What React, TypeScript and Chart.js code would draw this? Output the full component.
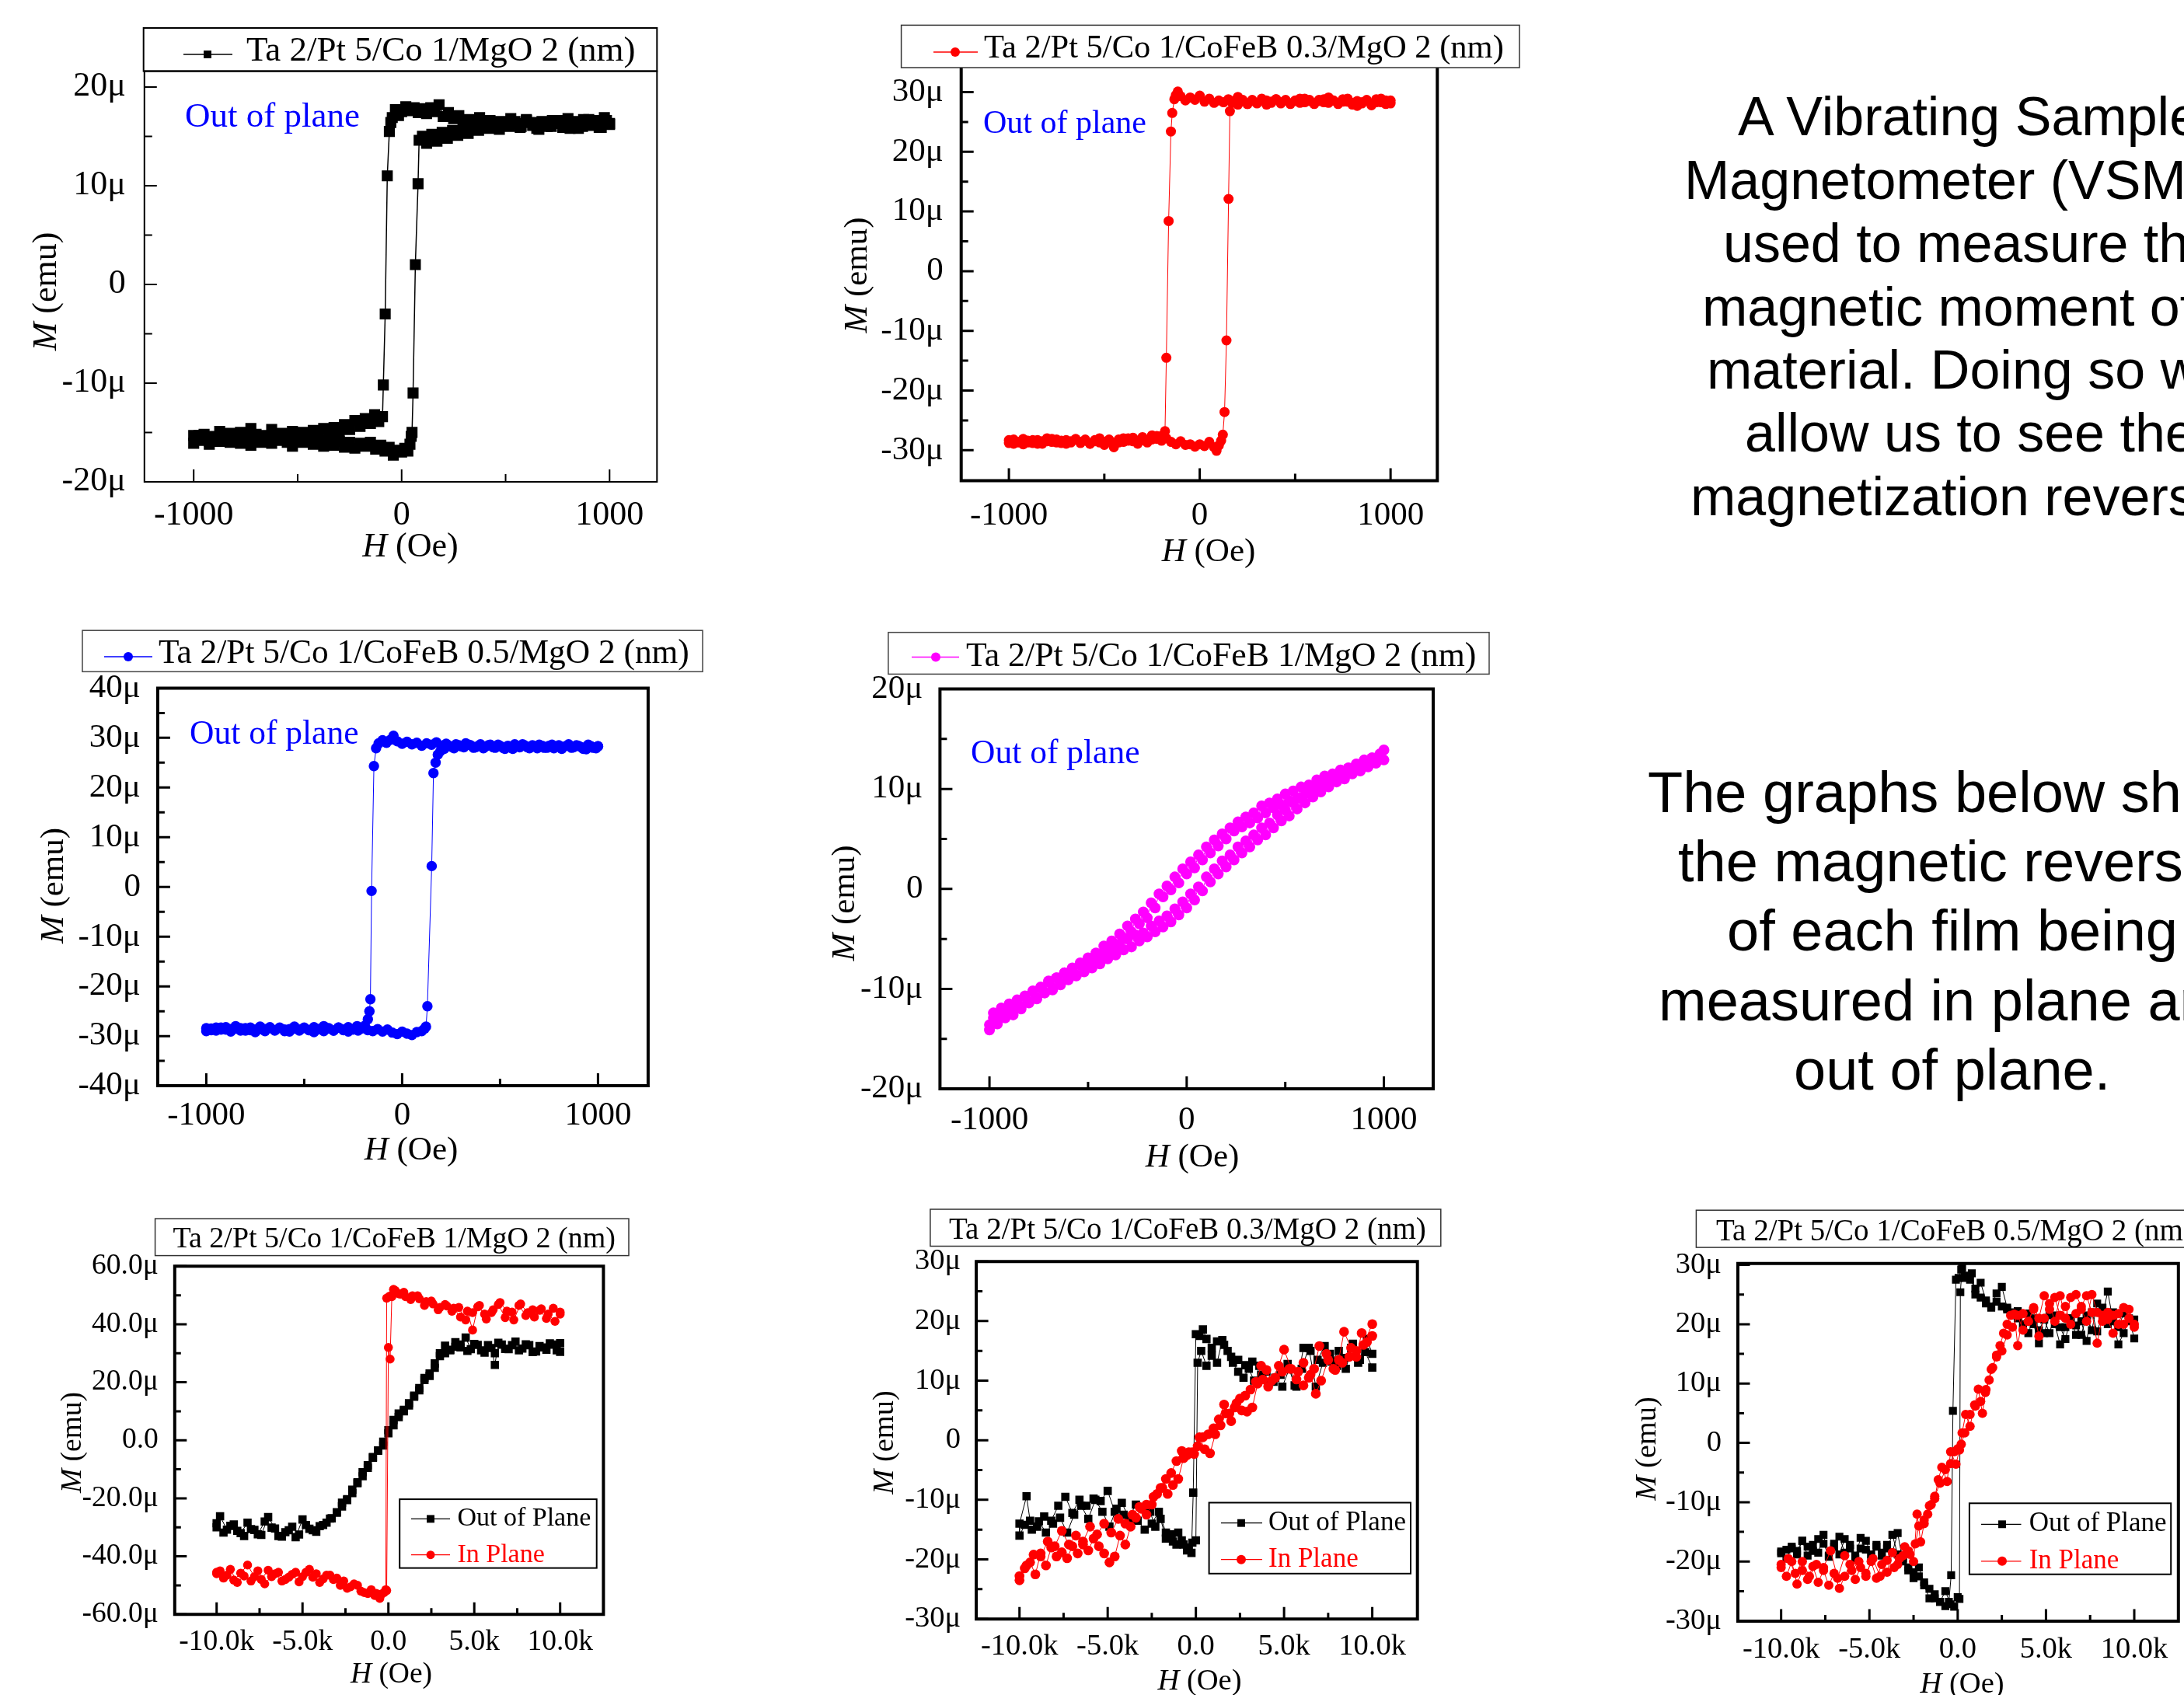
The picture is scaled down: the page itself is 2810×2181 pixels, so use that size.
import React, { useEffect, useRef } from 'react';
import { Chart, registerables } from 'chart.js';
Chart.register(...registerables);

type Pt = [number, number];

// ---------------- DATA (H in Oe, M in micro-emu) ----------------
// Panel 1: Ta 2/Pt 5/Co 1/MgO 2 (out of plane)
const C1_DOWN: Pt[] = [[1000,16.2],[975,16.9],[950,15.9],[925,16.6],[900,16.1],[875,16.7],[850,15.8],[825,16.4],[800,16.8],[775,15.9],[750,16.3],[725,16.6],[700,16.0],[675,16.5],[650,15.8],[625,16.4],[600,16.7],[575,16.0],[550,16.3],[525,16.8],[500,16.1],[475,16.5],[450,15.9],[425,16.6],[400,16.2],[375,16.9],[350,16.3],[325,16.7],[300,16.4],[275,17.1],[250,16.8],[225,17.4],[200,17.0],[180,18.2],[160,17.5],[140,17.9],[120,17.3],[100,17.8],[80,17.4],[60,17.9],[40,17.6],[20,18.0],[0,17.5],[-15,17.1],[-30,17.7],[-45,16.9],[-52,16.4],[-59,15.5],[-69,11.0],[-79,-3.0],[-88,-10.2],[-92,-13.4],[-110,-13.9],[-130,-13.2],[-150,-14.1],[-175,-13.6],[-200,-14.4],[-225,-13.8],[-250,-14.7],[-275,-14.2],[-300,-14.9],[-325,-14.5],[-350,-15.1],[-375,-14.6],[-400,-15.3],[-425,-14.8],[-450,-15.5],[-475,-15.0],[-500,-15.4],[-525,-14.9],[-550,-15.6],[-575,-15.1],[-600,-15.5],[-625,-14.7],[-650,-15.3],[-675,-15.8],[-700,-15.2],[-725,-14.6],[-750,-15.4],[-775,-15.0],[-800,-15.7],[-825,-15.1],[-850,-15.5],[-875,-14.9],[-900,-15.4],[-925,-15.9],[-950,-15.2],[-975,-15.6],[-1000,-15.3]];
const C1_UP: Pt[] = [[-1000,-16.1],[-975,-15.3],[-950,-15.8],[-925,-16.2],[-900,-15.5],[-875,-15.9],[-850,-15.3],[-825,-16.0],[-800,-15.6],[-775,-16.1],[-750,-15.4],[-725,-16.3],[-700,-15.7],[-675,-16.0],[-650,-15.4],[-625,-16.1],[-600,-15.8],[-575,-15.3],[-550,-16.0],[-525,-16.4],[-500,-15.7],[-475,-16.0],[-450,-15.5],[-425,-16.2],[-400,-15.9],[-375,-16.4],[-350,-15.8],[-325,-16.3],[-300,-15.9],[-275,-16.5],[-250,-16.0],[-225,-16.6],[-200,-16.1],[-175,-16.4],[-150,-16.0],[-125,-16.7],[-100,-16.3],[-80,-16.9],[-60,-16.5],[-40,-17.3],[-20,-16.8],[0,-17.0],[15,-16.6],[30,-16.9],[40,-16.2],[46,-15.4],[50,-15.0],[55,-11.0],[66,2.0],[79,10.2],[84,14.6],[100,15.0],[120,14.3],[145,15.2],[170,14.5],[195,15.4],[220,14.8],[245,15.6],[270,15.1],[295,15.8],[320,15.3],[345,16.0],[370,15.6],[395,16.2],[420,15.8],[445,16.3],[470,15.7],[495,16.4],[520,16.0],[545,16.5],[570,15.9],[600,16.6],[630,16.1],[660,15.7],[690,16.4],[720,16.0],[750,16.6],[780,16.1],[810,15.8],[840,16.5],[870,16.0],[900,16.7],[930,16.2],[960,15.9],[985,16.6],[1000,16.3]];

// Panel 2: CoFeB 0.3 (out of plane)
const C2_DOWN: Pt[] = [[1000,28.6],[975,28.0],[950,28.9],[925,28.3],[900,27.8],[875,28.7],[850,28.1],[825,28.5],[800,27.9],[775,28.4],[750,28.8],[725,28.2],[700,28.6],[675,29.1],[650,28.3],[625,28.7],[600,28.0],[575,28.5],[550,28.9],[525,28.2],[500,28.6],[475,28.1],[450,28.7],[425,28.3],[400,28.8],[375,28.2],[350,28.6],[325,28.9],[300,28.1],[275,28.5],[250,28.0],[225,28.7],[200,29.2],[175,28.4],[150,28.8],[125,28.3],[100,28.6],[75,28.2],[50,28.9],[25,28.4],[0,29.4],[-25,28.7],[-50,29.1],[-75,28.6],[-100,29.3],[-115,30.1],[-125,29.5],[-133,28.8],[-144,26.5],[-151,23.4],[-163,8.4],[-175,-14.5],[-182,-26.8],[-200,-27.6],[-225,-28.1],[-250,-27.5],[-275,-28.3],[-300,-27.8],[-325,-28.5],[-350,-27.9],[-375,-28.4],[-400,-28.0],[-425,-28.7],[-450,-29.5],[-475,-28.2],[-500,-28.6],[-525,-28.0],[-550,-28.5],[-575,-28.9],[-600,-28.2],[-625,-28.6],[-650,-28.1],[-675,-28.7],[-700,-28.3],[-725,-28.8],[-750,-28.2],[-775,-28.6],[-800,-28.0],[-825,-28.5],[-850,-28.9],[-875,-28.3],[-900,-28.7],[-925,-28.1],[-950,-28.6],[-975,-28.9],[-1000,-28.3]];
const C2_UP: Pt[] = [[-1000,-28.8],[-975,-28.2],[-950,-28.7],[-925,-29.0],[-900,-28.4],[-875,-28.8],[-850,-28.3],[-825,-28.9],[-800,-28.5],[-775,-28.1],[-750,-28.7],[-725,-28.4],[-700,-28.9],[-675,-28.5],[-650,-28.2],[-625,-28.8],[-600,-28.4],[-575,-28.9],[-550,-28.3],[-525,-28.7],[-500,-29.1],[-475,-28.5],[-450,-28.8],[-425,-28.2],[-400,-28.6],[-375,-28.0],[-350,-28.5],[-325,-28.9],[-300,-28.3],[-275,-28.7],[-250,-28.2],[-225,-27.6],[-200,-28.4],[-175,-28.0],[-150,-28.6],[-125,-29.0],[-100,-28.5],[-75,-29.1],[-50,-29.0],[-25,-29.4],[0,-29.0],[25,-29.3],[50,-28.6],[75,-29.5],[88,-30.1],[100,-29.2],[112,-28.4],[121,-27.4],[130,-23.6],[140,-11.6],[151,12.1],[158,26.8],[170,28.2],[185,28.6],[200,27.9],[225,28.5],[250,28.0],[275,28.7],[300,28.2],[325,28.6],[350,27.9],[375,28.4],[400,28.8],[425,28.1],[450,28.6],[475,28.0],[500,28.5],[525,28.9],[550,28.3],[575,28.7],[600,28.1],[625,28.5],[650,28.8],[675,28.2],[700,28.6],[725,28.0],[750,28.4],[775,28.9],[800,28.2],[825,27.7],[850,28.3],[875,28.6],[900,28.0],[925,28.8],[950,28.3],[975,28.6],[1000,28.1]];

// Panel 3: CoFeB 0.5 (out of plane)
const C3_DOWN: Pt[] = [[1000,28.3],[975,28.0],[950,28.6],[925,27.8],[900,28.4],[875,28.1],[850,28.7],[825,28.2],[800,28.5],[775,27.9],[750,28.4],[725,28.0],[700,28.6],[675,28.3],[650,27.9],[625,28.5],[600,28.1],[575,28.7],[550,28.2],[525,27.8],[500,28.4],[475,28.0],[450,28.6],[425,28.2],[400,28.7],[375,28.1],[350,28.5],[325,28.9],[300,28.3],[275,28.7],[250,28.2],[225,28.8],[200,28.4],[175,29.1],[150,28.6],[125,28.9],[100,28.4],[75,29.0],[50,28.7],[25,29.2],[0,28.8],[-25,29.3],[-44,30.4],[-60,29.6],[-80,29.0],[-100,29.5],[-120,28.9],[-133,27.9],[-144,24.3],[-156,-0.8],[-162,-22.6],[-167,-25.0],[-175,-26.6],[-190,-27.9],[-210,-28.5],[-230,-28.0],[-250,-28.7],[-275,-28.2],[-300,-28.8],[-325,-28.3],[-350,-28.9],[-375,-28.4],[-400,-28.0],[-425,-28.6],[-450,-28.2],[-475,-28.8],[-500,-28.3],[-525,-28.7],[-550,-28.1],[-575,-28.6],[-600,-29.0],[-625,-28.4],[-650,-28.8],[-675,-28.2],[-700,-28.6],[-725,-28.1],[-750,-28.7],[-775,-28.3],[-800,-28.9],[-825,-28.4],[-850,-28.0],[-875,-28.6],[-900,-28.2],[-925,-28.7],[-950,-28.3],[-975,-28.8],[-1000,-28.4]];
const C3_UP: Pt[] = [[-1000,-29.0],[-975,-28.5],[-950,-28.9],[-925,-28.3],[-900,-28.7],[-875,-29.1],[-850,-28.5],[-825,-28.9],[-800,-28.4],[-775,-28.8],[-750,-29.2],[-725,-28.6],[-700,-29.0],[-675,-28.4],[-650,-28.9],[-625,-28.3],[-600,-28.7],[-575,-29.1],[-550,-28.5],[-525,-28.9],[-500,-28.4],[-475,-28.8],[-450,-29.2],[-425,-28.6],[-400,-29.0],[-375,-28.5],[-350,-28.9],[-325,-28.3],[-300,-28.7],[-275,-29.1],[-250,-28.6],[-225,-28.9],[-200,-28.4],[-175,-28.8],[-150,-29.0],[-125,-28.6],[-100,-29.1],[-75,-28.7],[-50,-29.3],[-25,-29.6],[0,-29.1],[25,-29.5],[50,-29.8],[75,-29.2],[100,-29.0],[115,-28.5],[122,-28.1],[129,-24.0],[151,4.2],[160,22.9],[171,25.0],[182,26.6],[195,27.3],[215,27.8],[240,28.4],[265,27.9],[290,28.5],[315,28.1],[340,28.6],[365,28.0],[390,28.4],[415,27.9],[440,28.5],[465,28.1],[490,28.6],[515,28.0],[540,28.4],[565,27.8],[590,28.3],[615,28.7],[640,28.1],[665,28.5],[690,27.9],[715,28.4],[740,28.0],[765,28.6],[790,28.2],[815,27.8],[840,28.4],[865,28.0],[890,28.5],[915,28.1],[940,27.7],[965,28.3],[990,27.9],[1000,28.3]];

// Panel 4: CoFeB 1 (out of plane)
const C4_DOWN: Pt[] = [[1000,13.9],[980,13.4],[960,12.6],[940,13.1],[920,12.2],[900,12.8],[880,11.9],[860,12.5],[840,11.6],[820,12.1],[800,11.2],[780,11.9],[760,10.9],[740,11.5],[720,10.6],[700,11.3],[680,10.3],[660,10.9],[640,9.9],[620,10.4],[600,9.5],[580,10.2],[560,9.1],[540,9.8],[520,8.8],[500,9.5],[480,8.4],[460,9.0],[440,8.1],[420,8.6],[400,7.6],[380,8.3],[360,7.1],[340,7.6],[320,6.6],[300,7.2],[280,6.2],[260,6.7],[240,5.8],[220,6.1],[200,5.0],[180,5.5],[160,4.3],[140,4.9],[120,3.6],[100,4.2],[80,2.9],[60,3.4],[40,2.1],[20,2.7],[0,1.5],[-20,2.0],[-40,0.6],[-60,1.2],[-80,-0.1],[-100,0.3],[-120,-0.8],[-140,-0.5],[-160,-1.9],[-180,-1.4],[-200,-2.9],[-220,-2.3],[-240,-3.5],[-260,-3.0],[-280,-4.3],[-300,-3.7],[-320,-4.9],[-340,-4.5],[-360,-5.8],[-380,-5.2],[-400,-6.3],[-420,-5.7],[-440,-7.0],[-460,-6.4],[-480,-7.5],[-500,-6.9],[-520,-8.0],[-540,-7.4],[-560,-8.6],[-580,-7.9],[-600,-9.0],[-620,-8.4],[-640,-9.4],[-660,-8.9],[-680,-9.9],[-700,-9.2],[-720,-10.4],[-740,-9.8],[-760,-10.9],[-780,-10.2],[-800,-11.3],[-820,-10.7],[-840,-11.8],[-860,-11.1],[-880,-12.1],[-900,-11.5],[-920,-12.6],[-940,-11.9],[-960,-13.0],[-980,-12.4],[-1000,-13.6]];
const C4_UP: Pt[] = [[-1000,-14.1],[-980,-12.9],[-960,-13.5],[-940,-12.4],[-920,-12.9],[-900,-11.8],[-880,-12.6],[-860,-11.3],[-840,-12.0],[-820,-10.8],[-800,-11.4],[-780,-10.3],[-760,-11.0],[-740,-9.9],[-720,-10.4],[-700,-9.3],[-680,-10.1],[-660,-8.9],[-640,-9.6],[-620,-8.4],[-600,-9.1],[-580,-8.2],[-560,-8.7],[-540,-7.6],[-520,-8.3],[-500,-7.2],[-480,-7.9],[-460,-6.8],[-440,-7.5],[-420,-6.3],[-400,-7.0],[-380,-6.0],[-360,-6.6],[-340,-5.5],[-320,-6.1],[-300,-5.0],[-280,-5.8],[-260,-4.6],[-240,-5.2],[-220,-4.4],[-200,-4.8],[-180,-3.7],[-160,-4.3],[-140,-3.2],[-120,-3.8],[-100,-2.7],[-80,-3.3],[-60,-2.0],[-40,-2.6],[-20,-1.3],[0,-1.9],[20,-0.5],[40,-1.1],[60,0.2],[80,-0.2],[100,1.2],[120,0.7],[140,2.0],[160,1.5],[180,2.8],[200,2.2],[220,3.4],[240,2.9],[260,4.2],[280,3.6],[300,4.8],[320,4.2],[340,5.4],[360,4.9],[380,6.1],[400,5.4],[420,6.6],[440,6.1],[460,7.4],[480,6.8],[500,7.9],[520,7.3],[540,8.6],[560,8.0],[580,9.1],[600,8.6],[620,9.7],[640,9.2],[660,10.3],[680,9.7],[700,10.8],[720,10.2],[740,11.3],[760,10.7],[780,11.7],[800,11.0],[820,12.1],[840,11.5],[860,12.4],[880,11.8],[900,12.9],[920,12.3],[940,13.1],[960,12.6],[980,13.5],[1000,12.9]];

// Panel 5: CoFeB 1, out of plane (OOP) vs in plane (IP)
const C5_OOP_DOWN: Pt[] = [[10000,30.5],[9600,33.0],[9200,31.2],[8800,32.5],[8400,30.4],[8000,33.1],[7600,31.0],[7200,32.8],[6800,31.5],[6400,33.6],[6200,26.0],[6000,31.8],[5600,30.2],[5200,32.9],[4800,31.4],[4500,35.4],[4200,33.0],[3900,32.2],[3600,31.0],[3300,30.0],[3000,29.0],[2700,25.0],[2400,23.0],[2100,21.5],[1800,18.0],[1500,15.4],[1200,12.0],[900,10.5],[600,8.0],[300,5.2],[0,2.4],[-300,-1.8],[-600,-3.6],[-900,-6.0],[-1200,-9.5],[-1500,-12.4],[-1800,-14.8],[-2100,-18.2],[-2400,-20.3],[-2700,-22.8],[-3000,-25.0],[-3300,-26.9],[-3600,-28.4],[-4000,-29.6],[-4400,-31.0],[-4800,-29.2],[-5200,-32.5],[-5600,-29.8],[-6000,-31.7],[-6400,-33.0],[-6800,-30.1],[-7200,-28.0],[-7600,-32.4],[-8000,-30.6],[-8400,-33.0],[-8800,-31.2],[-9200,-29.5],[-9600,-31.8],[-10000,-28.6]];
const C5_OOP_UP: Pt[] = [[-10000,-30.0],[-9800,-26.2],[-9400,-30.8],[-9000,-29.0],[-8600,-32.0],[-8200,-28.4],[-7800,-30.9],[-7400,-32.6],[-7000,-26.5],[-6600,-30.4],[-6200,-33.2],[-5800,-31.0],[-5400,-33.4],[-5000,-27.3],[-4600,-30.5],[-4200,-31.5],[-3800,-29.2],[-3400,-27.0],[-3000,-24.8],[-2700,-21.5],[-2400,-20.6],[-2100,-17.0],[-1800,-14.5],[-1500,-11.0],[-1200,-8.6],[-900,-5.8],[-600,-3.5],[-300,-0.5],[0,3.5],[300,7.0],[600,9.2],[900,10.0],[1200,12.8],[1500,15.0],[1800,17.2],[2100,20.8],[2400,22.2],[2700,26.5],[3000,30.0],[3300,32.6],[3600,31.2],[3900,33.8],[4200,32.0],[4600,30.8],[5000,33.2],[5400,31.0],[5800,32.8],[6200,30.0],[6600,33.0],[7000,31.4],[7400,34.0],[7800,31.6],[8200,32.8],[8600,30.6],[9000,32.0],[9400,33.4],[9800,31.0],[10000,33.5]];
const C5_IP_DOWN: Pt[] = [[10000,44.2],[9600,45.5],[9200,42.0],[8800,44.8],[8400,45.0],[8000,43.0],[7600,46.5],[7200,44.2],[6800,42.3],[6400,46.8],[6000,44.0],[5600,43.5],[5200,46.0],[4900,38.0],[4600,44.5],[4200,42.5],[3800,45.5],[3400,46.3],[3000,45.8],[2600,47.0],[2200,47.8],[1800,48.8],[1400,49.8],[1000,49.5],[700,50.4],[400,51.6],[200,50.0],[50,49.6],[-100,49.0],[-150,-51.5],[-400,-53.0],[-700,-52.8],[-1000,-51.5],[-1400,-52.5],[-1800,-50.0],[-2200,-50.5],[-2600,-48.5],[-3000,-47.5],[-3400,-46.5],[-3800,-47.8],[-4200,-46.0],[-4600,-44.5],[-5000,-47.0],[-5400,-45.5],[-5800,-47.2],[-6200,-48.5],[-6600,-46.0],[-7000,-44.8],[-7400,-48.0],[-7800,-47.0],[-8200,-43.0],[-8600,-45.8],[-9000,-48.2],[-9400,-46.5],[-9800,-45.0],[-10000,-46.0]];
const C5_IP_UP: Pt[] = [[-10000,-45.5],[-9600,-47.5],[-9200,-44.5],[-8800,-49.0],[-8400,-46.8],[-8000,-48.5],[-7600,-45.0],[-7200,-49.5],[-6800,-47.0],[-6400,-45.5],[-6000,-48.0],[-5600,-46.2],[-5200,-48.8],[-4800,-45.5],[-4400,-47.2],[-4000,-49.0],[-3600,-46.5],[-3200,-48.0],[-2800,-50.0],[-2400,-51.0],[-2000,-49.5],[-1600,-52.0],[-1200,-52.8],[-800,-53.5],[-500,-54.5],[-250,-52.5],[-100,-51.8],[0,32.0],[100,28.0],[200,49.5],[300,52.0],[600,50.5],[900,51.0],[1300,48.5],[1700,49.8],[2100,46.5],[2500,48.0],[2900,45.0],[3300,46.8],[3700,44.5],[4100,45.8],[4500,41.5],[4900,44.0],[5300,46.5],[5700,41.8],[6100,45.0],[6500,47.5],[6900,44.5],[7300,41.5],[7700,47.0],[8100,44.0],[8500,42.5],[8900,45.3],[9300,43.5],[9700,41.0],[10000,43.5]];

// Panel 6: CoFeB 0.3, OOP vs IP
const C6_OOP_DOWN: Pt[] = [[10000,12.2],[9600,14.8],[9200,13.0],[8800,15.5],[8400,13.8],[8000,12.5],[7600,14.5],[7200,13.0],[6800,9.0],[6400,15.5],[6000,12.0],[5600,9.2],[5200,12.8],[4800,11.0],[4400,9.8],[4000,11.5],[3600,12.5],[3200,13.2],[2800,12.6],[2400,13.5],[2000,14.0],[1600,16.0],[1200,16.6],[900,15.5],[600,17.0],[400,18.6],[200,17.5],[0,17.8],[-150,-8.8],[-250,-18.9],[-500,-18.5],[-800,-16.8],[-1100,-17.5],[-1400,-15.8],[-1700,-16.5],[-2000,-13.2],[-2300,-14.5],[-2600,-12.0],[-3000,-11.5],[-3400,-10.8],[-3800,-13.0],[-4200,-10.5],[-4600,-12.0],[-5000,-8.5],[-5400,-10.2],[-5800,-9.8],[-6200,-11.0],[-6600,-10.0],[-7000,-12.2],[-7400,-9.5],[-7800,-11.0],[-8200,-13.5],[-8600,-12.8],[-9000,-14.5],[-9400,-13.5],[-9600,-9.4],[-10000,-14.0]];
const C6_OOP_UP: Pt[] = [[-10000,-16.0],[-9700,-14.2],[-9300,-15.0],[-8900,-13.6],[-8500,-15.5],[-8100,-14.0],[-7700,-13.0],[-7300,-15.5],[-6900,-12.5],[-6500,-11.0],[-6100,-13.2],[-5700,-10.0],[-5300,-12.0],[-4900,-14.5],[-4500,-11.5],[-4100,-12.5],[-3700,-14.0],[-3300,-13.5],[-2900,-15.0],[-2500,-14.0],[-2100,-12.0],[-1700,-15.5],[-1300,-17.0],[-1000,-15.5],[-700,-17.5],[-400,-18.0],[-200,-17.2],[0,-16.8],[100,13.0],[300,15.0],[600,12.5],[900,14.2],[1200,13.0],[1500,16.8],[1800,15.0],[2100,13.0],[2400,11.5],[2700,10.5],[3000,12.0],[3300,10.0],[3700,11.0],[4100,9.5],[4500,10.5],[4900,9.0],[5300,12.0],[5700,9.0],[6100,15.5],[6500,15.0],[6900,13.5],[7300,15.8],[7700,13.2],[8100,15.0],[8500,12.0],[8900,16.2],[9300,13.5],[9700,17.0],[10000,14.5]];
const C6_IP_DOWN: Pt[] = [[10000,17.5],[9700,16.5],[9400,18.0],[9100,14.0],[8800,15.5],[8400,18.2],[8100,13.5],[7800,12.0],[7400,14.5],[7000,15.8],[6700,12.0],[6400,10.5],[6100,13.0],[5800,11.5],[5400,12.0],[5000,15.2],[4700,12.5],[4300,10.0],[4000,11.8],[3700,12.5],[3400,9.8],[3100,8.5],[2800,7.5],[2500,7.0],[2200,5.5],[1900,4.5],[1600,6.0],[1300,3.5],[1000,2.0],[700,1.0],[400,0.5],[100,-1.0],[-200,-2.0],[-500,-2.5],[-800,-1.8],[-1100,-3.5],[-1400,-5.5],[-1700,-6.5],[-2000,-8.0],[-2400,-9.5],[-2800,-10.8],[-3200,-11.2],[-3600,-12.5],[-4000,-14.0],[-4400,-13.2],[-4800,-15.5],[-5200,-14.0],[-5600,-15.8],[-6000,-14.5],[-6400,-17.0],[-6800,-16.0],[-7200,-17.5],[-7600,-15.2],[-8000,-17.8],[-8400,-17.0],[-8800,-19.5],[-9200,-19.2],[-9600,-21.0],[-10000,-22.8]];
const C6_IP_UP: Pt[] = [[-10000,-23.5],[-9700,-21.5],[-9400,-20.5],[-9100,-22.5],[-8800,-19.0],[-8500,-21.0],[-8200,-18.0],[-7900,-19.5],[-7600,-18.8],[-7300,-19.8],[-7000,-17.8],[-6700,-19.0],[-6400,-17.5],[-6100,-18.5],[-5800,-16.5],[-5500,-17.8],[-5200,-19.0],[-4900,-20.5],[-4600,-19.5],[-4300,-16.0],[-4000,-17.5],[-3700,-14.5],[-3400,-13.0],[-3100,-11.5],[-2800,-12.5],[-2500,-10.8],[-2200,-9.0],[-1900,-8.0],[-1600,-9.0],[-1300,-7.5],[-1000,-6.5],[-700,-3.0],[-400,-2.0],[-100,-2.3],[200,0.5],[500,-1.5],[800,-2.2],[1100,1.0],[1400,2.5],[1700,4.5],[2000,3.2],[2300,6.2],[2600,5.0],[2900,4.8],[3200,5.5],[3500,9.5],[3800,10.2],[4100,9.0],[4500,10.5],[4900,11.5],[5300,12.0],[5700,10.2],[6100,9.2],[6500,11.0],[6800,7.8],[7100,10.0],[7500,13.5],[7900,11.8],[8300,13.0],[8700,14.0],[9100,15.0],[9500,16.0],[10000,19.5]];

// Panel 7: CoFeB 0.5, OOP vs IP
const C7_OOP_DOWN: Pt[] = [[10000,17.6],[9700,21.0],[9400,18.5],[9100,16.6],[8800,20.5],[8500,25.5],[8200,21.5],[7900,18.8],[7600,22.0],[7300,17.2],[7000,20.5],[6700,18.2],[6400,21.0],[6100,19.5],[5800,16.6],[5500,20.0],[5200,21.5],[4900,18.5],[4600,16.8],[4300,20.0],[4000,21.8],[3700,19.5],[3400,21.0],[3100,22.0],[2800,22.5],[2500,23.0],[2200,23.8],[1900,22.8],[1600,23.5],[1300,24.5],[1000,26.0],[700,27.5],[400,28.0],[200,29.2],[50,27.8],[-100,27.5],[-270,5.4],[-370,-22.3],[-500,-26.8],[-700,-27.5],[-1000,-26.8],[-1300,-25.5],[-1600,-26.2],[-1900,-24.0],[-2200,-22.5],[-2500,-21.8],[-2800,-21.0],[-3100,-19.5],[-3400,-18.8],[-3700,-15.5],[-4000,-17.8],[-4300,-18.5],[-4600,-17.2],[-4900,-18.8],[-5200,-16.5],[-5500,-17.8],[-5800,-19.0],[-6100,-17.2],[-6400,-18.5],[-6700,-15.8],[-7000,-17.5],[-7300,-19.0],[-7600,-17.0],[-7900,-16.2],[-8200,-18.2],[-8500,-17.5],[-8800,-16.5],[-9100,-18.8],[-9400,-17.5],[-9700,-18.0],[-10000,-18.3]];
const C7_OOP_UP: Pt[] = [[-10000,-18.6],[-9700,-19.5],[-9400,-17.8],[-9100,-18.2],[-8800,-16.5],[-8500,-19.0],[-8200,-17.2],[-7900,-18.5],[-7600,-15.5],[-7300,-19.2],[-7000,-17.0],[-6700,-18.8],[-6400,-16.2],[-6100,-17.8],[-5800,-19.5],[-5500,-16.0],[-5200,-18.0],[-4900,-19.3],[-4600,-17.5],[-4300,-19.0],[-4000,-17.2],[-3700,-18.5],[-3400,-15.2],[-3100,-20.0],[-2800,-21.5],[-2500,-22.8],[-2200,-21.0],[-1900,-23.5],[-1600,-24.6],[-1300,-26.2],[-1000,-26.8],[-700,-25.0],[-400,-27.2],[-200,-27.6],[0,-26.0],[100,-26.3],[150,25.4],[250,29.5],[400,27.8],[600,28.2],[800,28.6],[1000,25.0],[1300,27.0],[1600,24.0],[1900,23.0],[2200,25.2],[2500,26.3],[2800,22.8],[3100,21.5],[3400,22.2],[3700,20.0],[4000,18.5],[4300,21.0],[4600,19.0],[4900,20.8],[5200,18.5],[5500,21.5],[5800,19.5],[6100,17.5],[6400,21.0],[6700,19.8],[7000,18.2],[7300,21.5],[7600,19.0],[7900,23.5],[8200,22.8],[8500,20.0],[8800,22.0],[9100,19.5],[9400,21.8],[9700,20.5],[10000,20.8]];
const C7_IP_DOWN: Pt[] = [[10000,19.5],[9700,22.5],[9400,20.0],[9100,21.8],[8800,18.5],[8500,20.8],[8200,21.5],[7900,16.8],[7600,22.0],[7300,24.8],[7000,23.0],[6700,25.0],[6400,24.5],[6100,21.0],[5800,24.8],[5500,20.5],[5200,23.5],[4900,24.8],[4600,21.0],[4300,22.8],[4000,20.5],[3700,19.0],[3400,21.5],[3100,19.5],[2800,18.2],[2500,15.5],[2200,14.5],[1900,12.4],[1600,9.0],[1300,7.0],[1000,6.2],[700,4.8],[400,1.7],[200,-0.2],[0,-1.0],[-200,-1.5],[-400,-3.5],[-700,-4.5],[-1000,-6.8],[-1300,-9.0],[-1600,-10.6],[-1900,-13.0],[-2200,-14.0],[-2400,-17.0],[-2700,-18.8],[-3000,-17.5],[-3300,-19.5],[-3600,-21.0],[-4000,-19.8],[-4400,-22.5],[-4800,-19.5],[-5200,-22.0],[-5600,-20.0],[-6000,-21.5],[-6400,-19.0],[-6800,-22.8],[-7200,-18.2],[-7600,-21.0],[-8000,-20.5],[-8400,-22.5],[-8800,-20.0],[-9200,-22.0],[-9600,-19.5],[-10000,-20.5]];
const C7_IP_UP: Pt[] = [[-10000,-21.0],[-9700,-22.5],[-9400,-20.0],[-9100,-23.8],[-8800,-21.5],[-8500,-23.0],[-8200,-20.8],[-7900,-23.5],[-7600,-21.5],[-7300,-24.0],[-7000,-22.0],[-6700,-24.5],[-6400,-22.5],[-6100,-20.5],[-5800,-23.0],[-5500,-21.0],[-5200,-22.5],[-4900,-20.0],[-4600,-22.8],[-4300,-20.5],[-4000,-21.8],[-3700,-18.5],[-3400,-20.5],[-3100,-19.0],[-2800,-18.2],[-2500,-20.0],[-2300,-12.0],[-2100,-16.7],[-1900,-13.6],[-1700,-12.0],[-1500,-10.4],[-1300,-9.4],[-1100,-6.2],[-900,-4.1],[-600,-6.5],[-400,-1.5],[-100,-3.6],[100,-1.2],[250,1.7],[450,4.8],[700,2.8],[960,6.4],[1170,9.05],[1400,5.0],[1570,8.5],[1780,10.6],[1980,12.7],[2200,14.8],[2400,16.4],[2600,18.5],[2800,20.0],[3000,21.5],[3200,21.7],[3400,16.4],[3700,21.8],[4000,20.5],[4300,22.5],[4600,18.0],[4900,21.0],[5200,22.5],[5500,24.5],[5800,21.5],[6100,23.0],[6400,20.0],[6700,21.8],[7000,22.5],[7300,20.5],[7600,25.0],[7900,22.0],[8200,20.5],[8500,22.0],[8800,21.5],[9100,20.0],[9400,22.8],[9700,21.0],[10000,20.0]];

// Tick values and labels
const X_TICKS_1K = [-1000, 0, 1000];
const X_LABELS_1K = ['-1000', '0', '1000'];
const X_MINOR_1K = [-500, 500];
const X_TICKS_10K = [-10000, -5000, 0, 5000, 10000];
const X_LABELS_10K = ['-10.0k', '-5.0k', '0.0', '5.0k', '10.0k'];
const X_MINOR_10K = [-7500, -2500, 2500, 7500];
const Y_TICKS_20 = [-20, -10, 0, 10, 20];
const Y_LABELS_20 = ['-20μ', '-10μ', '0', '10μ', '20μ'];
const Y_MINOR_20 = [-15, -5, 5, 15];
const Y_TICKS_30 = [-30, -20, -10, 0, 10, 20, 30];
const Y_LABELS_30 = ['-30μ', '-20μ', '-10μ', '0', '10μ', '20μ', '30μ'];
const Y_MINOR_30 = [-25, -15, -5, 5, 15, 25];
const Y_TICKS_40 = [-40, -30, -20, -10, 0, 10, 20, 30, 40];
const Y_LABELS_40 = ['-40μ', '-30μ', '-20μ', '-10μ', '0', '10μ', '20μ', '30μ', '40μ'];
const Y_MINOR_40 = [-35, -25, -15, -5, 5, 15, 25, 35];
const Y_TICKS_60 = [-60, -40, -20, 0, 20, 40, 60];
const Y_LABELS_60 = ['-60.0μ', '-40.0μ', '-20.0μ', '0.0', '20.0μ', '40.0μ', '60.0μ'];
const Y_MINOR_60 = [-50, -30, -10, 10, 30, 50];

const TITLE_1 = 'Ta 2/Pt 5/Co 1/MgO 2 (nm)';
const TITLE_03 = 'Ta 2/Pt 5/Co 1/CoFeB 0.3/MgO 2 (nm)';
const TITLE_05 = 'Ta 2/Pt 5/Co 1/CoFeB 0.5/MgO 2 (nm)';
const TITLE_10 = 'Ta 2/Pt 5/Co 1/CoFeB 1/MgO 2 (nm)';

const TEXT_TOP = ['A Vibrating Sample', 'Magnetometer (VSM) is', 'used to measure the', 'magnetic moment of a', 'material. Doing so will', 'allow us to see the', 'magnetization reversal.'];
const TEXT_MID = ['The graphs below show', 'the magnetic reversal', 'of each film being', 'measured in plane and', 'out of plane.'];

// ---------------- STYLE / LAYOUT ----------------
const SERIF = '"Liberation Serif", "Times New Roman", serif';
const SANS = '"Liberation Sans", Arial, sans-serif';
const BLACK = '#000000';
const RED = '#ff0000';
const BLUE = '#0000ff';
const MAGENTA = '#ff00ff';

type Rect = [number, number, number, number];
interface SeriesCfg { label: string; color: string; shape: 'rect' | 'circle'; radius: number; lw: number; order: number; branches: Pt[][]; }
interface LegendEntry { label: string; color: string; shape: 'rect' | 'circle'; r: number; y: number; }
interface PanelCfg {
  canvas: Rect; plot: Rect;
  xMin: number; xMax: number; yMin: number; yMax: number;
  xTicks: number[]; xLabels: string[]; xMinor: number[];
  yTicks: number[]; yLabels: string[]; yMinor: number[];
  tickFont: number; xPad: number; yPad: number;
  majorLen: number; minorLen: number; tickWidth: number; frameWidth: number; frameTop: boolean;
  title: { box: Rect; border: number; color: string; text: string; tx: number; ty: number; font: number;
    marker?: { x1: number; x2: number; mx: number; y: number; shape: 'rect' | 'circle'; r: number; color: string } };
  note?: { x: number; y: number; font: number };
  legend?: { box: Rect; x1: number; x2: number; mx: number; tx: number; font: number; entries: LegendEntry[] };
  xTitle: [number, number]; yTitle: [number, number]; axisFont: number;
  series: SeriesCfg[];
}

const PANELS: PanelCfg[] = [
  {
    canvas: [30, 28, 860, 735], plot: [185.8, 91.6, 845.3, 619.9],
    xMin: -1237, xMax: 1228, yMin: -20, yMax: 21.6,
    xTicks: X_TICKS_1K, xLabels: X_LABELS_1K, xMinor: X_MINOR_1K,
    yTicks: Y_TICKS_20, yLabels: Y_LABELS_20, yMinor: Y_MINOR_20,
    tickFont: 44, xPad: 17, yPad: 24, majorLen: 16, minorLen: 10, tickWidth: 2, frameWidth: 2, frameTop: true,
    title: { box: [184.7, 36, 845.3, 91.6], border: 2, color: BLACK, text: TITLE_1, tx: 317, ty: 66, font: 45,
      marker: { x1: 236, x2: 299, mx: 267, y: 70, shape: 'rect', r: 7, color: BLACK } },
    note: { x: 238, y: 151, font: 45 },
    xTitle: [528, 704], yTitle: [60, 375], axisFont: 44,
    series: [{ label: TITLE_1, color: BLACK, shape: 'rect', radius: 10, lw: 1.5, order: 1, branches: [C1_DOWN, C1_UP] }],
  },
  {
    canvas: [1080, 25, 1970, 740], plot: [1236.7, 87, 1849.3, 618.5],
    xMin: -1250, xMax: 1245, yMin: -35.1, yMax: 34.1,
    xTicks: X_TICKS_1K, xLabels: X_LABELS_1K, xMinor: X_MINOR_1K,
    yTicks: Y_TICKS_30, yLabels: Y_LABELS_30, yMinor: Y_MINOR_30,
    tickFont: 43, xPad: 19, yPad: 23, majorLen: 16, minorLen: 9, tickWidth: 3, frameWidth: 4, frameTop: false,
    title: { box: [1159.6, 32.4, 1955, 87], border: 1.5, color: '#333333', text: TITLE_03, tx: 1266, ty: 63, font: 42.5,
      marker: { x1: 1201, x2: 1258, mx: 1229, y: 67, shape: 'circle', r: 6, color: RED } },
    note: { x: 1265, y: 160, font: 42 },
    xTitle: [1555, 711], yTitle: [1104, 354], axisFont: 43,
    series: [{ label: TITLE_03, color: RED, shape: 'circle', radius: 6.5, lw: 1, order: 1, branches: [C2_DOWN, C2_UP] }],
  },
  {
    canvas: [40, 805, 915, 1510], plot: [202.9, 885.4, 833.9, 1397.1],
    xMin: -1248, xMax: 1256, yMin: -40, yMax: 40,
    xTicks: X_TICKS_1K, xLabels: X_LABELS_1K, xMinor: X_MINOR_1K,
    yTicks: Y_TICKS_40, yLabels: Y_LABELS_40, yMinor: Y_MINOR_40,
    tickFont: 43, xPad: 13, yPad: 22, majorLen: 16, minorLen: 9, tickWidth: 3, frameWidth: 4, frameTop: true,
    title: { box: [106, 811.2, 904, 864.3], border: 1.5, color: '#444444', text: TITLE_05, tx: 204, ty: 842, font: 43.4,
      marker: { x1: 134, x2: 196, mx: 165, y: 845, shape: 'circle', r: 6, color: BLUE } },
    note: { x: 244, y: 946, font: 43.5 },
    xTitle: [529, 1481], yTitle: [70, 1139.5], axisFont: 43,
    series: [{ label: TITLE_05, color: BLUE, shape: 'circle', radius: 6.7, lw: 1, order: 1, branches: [C3_DOWN, C3_UP] }],
  },
  {
    canvas: [1060, 805, 1930, 1515], plot: [1209.4, 886.5, 1844, 1401.1],
    xMin: -1251, xMax: 1250, yMin: -20, yMax: 20,
    xTicks: X_TICKS_1K, xLabels: X_LABELS_1K, xMinor: X_MINOR_1K,
    yTicks: Y_TICKS_20, yLabels: Y_LABELS_20, yMinor: Y_MINOR_20,
    tickFont: 43, xPad: 15, yPad: 22, majorLen: 16, minorLen: 9, tickWidth: 3, frameWidth: 4, frameTop: true,
    title: { box: [1142.9, 813.7, 1916, 867.4], border: 1.5, color: '#444444', text: TITLE_10, tx: 1243, ty: 845, font: 43.8,
      marker: { x1: 1173, x2: 1234, mx: 1204, y: 845.5, shape: 'circle', r: 6, color: MAGENTA } },
    note: { x: 1249, y: 971, font: 43.5 },
    xTitle: [1534, 1490], yTitle: [1087.5, 1162], axisFont: 43,
    series: [{ label: TITLE_10, color: MAGENTA, shape: 'circle', radius: 7, lw: 1, order: 1, branches: [C4_DOWN, C4_UP] }],
  },
  {
    canvas: [65, 1560, 820, 2181], plot: [224.8, 1629.3, 776.4, 2077.2],
    xMin: -12440, xMax: 12520, yMin: -60, yMax: 60,
    xTicks: X_TICKS_10K, xLabels: X_LABELS_10K, xMinor: X_MINOR_10K,
    yTicks: Y_TICKS_60, yLabels: Y_LABELS_60, yMinor: Y_MINOR_60,
    tickFont: 37.5, xPad: 13.7, yPad: 21, majorLen: 15.5, minorLen: 8, tickWidth: 3, frameWidth: 4, frameTop: true,
    title: { box: [199.6, 1568.1, 809, 1615.6], border: 1.5, color: '#333333', text: TITLE_10, tx: 222.4, ty: 1595, font: 38 },
    legend: { box: [514.2, 1929.1, 767.7, 2017.6], x1: 529, x2: 579, mx: 554, tx: 588.4, font: 34,
      entries: [{ label: 'Out of Plane', color: BLACK, shape: 'rect', r: 7, y: 1954.4 }, { label: 'In Plane', color: RED, shape: 'circle', r: 5.5, y: 2000.7 }] },
    xTitle: [503.5, 2155.6], yTitle: [94, 1856], axisFont: 37.5,
    series: [
      { label: 'Out of Plane', color: BLACK, shape: 'rect', radius: 7.5, lw: 1, order: 2, branches: [C5_OOP_DOWN, C5_OOP_UP] },
      { label: 'In Plane', color: RED, shape: 'circle', radius: 5.8, lw: 1, order: 1, branches: [C5_IP_DOWN, C5_IP_UP] },
    ],
  },
  {
    canvas: [1105, 1550, 1865, 2181], plot: [1256.1, 1623.2, 1823.7, 2083.2],
    xMin: -12450, xMax: 12560, yMin: -30, yMax: 30,
    xTicks: X_TICKS_10K, xLabels: X_LABELS_10K, xMinor: X_MINOR_10K,
    yTicks: Y_TICKS_30, yLabels: Y_LABELS_30, yMinor: Y_MINOR_30,
    tickFont: 38.5, xPad: 13, yPad: 20, majorLen: 15.5, minorLen: 8, tickWidth: 3, frameWidth: 4, frameTop: true,
    title: { box: [1196.9, 1556, 1853.8, 1603.5], border: 1.5, color: '#333333', text: TITLE_03, tx: 1221, ty: 1584, font: 39 },
    legend: { box: [1555.6, 1933.5, 1815, 2024.8], x1: 1571, x2: 1624, mx: 1597, tx: 1632, font: 35,
      entries: [{ label: 'Out of Plane', color: BLACK, shape: 'rect', r: 7, y: 1959.7 }, { label: 'In Plane', color: RED, shape: 'circle', r: 6, y: 2006.7 }] },
    xTitle: [1543.5, 2163.7], yTitle: [1139, 1856], axisFont: 38.5,
    series: [
      { label: 'Out of Plane', color: BLACK, shape: 'rect', radius: 7.5, lw: 1, order: 2, branches: [C6_OOP_DOWN, C6_OOP_UP] },
      { label: 'In Plane', color: RED, shape: 'circle', radius: 6.3, lw: 1, order: 1, branches: [C6_IP_DOWN, C6_IP_UP] },
    ],
  },
  {
    canvas: [2090, 1550, 2810, 2181], plot: [2236, 1625.7, 2804, 2086],
    xMin: -12450, xMax: 12500, yMin: -30.05, yMax: 30.25,
    xTicks: X_TICKS_10K, xLabels: X_LABELS_10K, xMinor: X_MINOR_10K,
    yTicks: Y_TICKS_30, yLabels: Y_LABELS_30, yMinor: Y_MINOR_30,
    tickFont: 38.5, xPad: 14, yPad: 21, majorLen: 15.5, minorLen: 8, tickWidth: 3, frameWidth: 4, frameTop: true,
    title: { box: [2182.4, 1557.2, 2840, 1605.1], border: 1.5, color: '#333333', text: TITLE_05, tx: 2208, ty: 1586, font: 39 },
    legend: { box: [2533.9, 1934.3, 2793.2, 2025.7], x1: 2549, x2: 2600.5, mx: 2576, tx: 2610.7, font: 35,
      entries: [{ label: 'Out of Plane', color: BLACK, shape: 'rect', r: 7, y: 1961.3 }, { label: 'In Plane', color: RED, shape: 'circle', r: 6, y: 2008.8 }] },
    xTitle: [2524.6, 2167.7], yTitle: [2119.6, 1864], axisFont: 38.5,
    series: [
      { label: 'Out of Plane', color: BLACK, shape: 'rect', radius: 7.2, lw: 1, order: 2, branches: [C7_OOP_DOWN, C7_OOP_UP] },
      { label: 'In Plane', color: RED, shape: 'circle', radius: 6, lw: 1, order: 1, branches: [C7_IP_DOWN, C7_IP_UP] },
    ],
  },
];

// ---------------- DRAWING HELPERS ----------------
function drawMark(ctx: CanvasRenderingContext2D, shape: string, x: number, y: number, r: number, color: string) {
  ctx.fillStyle = color;
  if (shape === 'rect') {
    const s = r * Math.SQRT1_2;
    ctx.fillRect(x - s, y - s, 2 * s, 2 * s);
  } else {
    ctx.beginPath();
    ctx.arc(x, y, r, 0, Math.PI * 2);
    ctx.fill();
  }
}

function drawMixed(ctx: CanvasRenderingContext2D, parts: { t: string; it?: boolean }[], size: number, cx: number, cy: number, rotate: boolean) {
  ctx.save();
  ctx.translate(cx, cy);
  if (rotate) ctx.rotate(-Math.PI / 2);
  const fonts = parts.map((p) => `${p.it ? 'italic ' : ''}${size}px ${SERIF}`);
  let total = 0;
  const widths = parts.map((p, i) => {
    ctx.font = fonts[i];
    const w = ctx.measureText(p.t).width;
    total += w;
    return w;
  });
  let x = -total / 2;
  ctx.textBaseline = 'middle';
  ctx.textAlign = 'left';
  ctx.fillStyle = '#000';
  parts.forEach((p, i) => {
    ctx.font = fonts[i];
    ctx.fillText(p.t, x, 0);
    x += widths[i];
  });
  ctx.restore();
}

function decorPlugin(p: PanelCfg) {
  return {
    id: 'panelDecor',
    afterDraw(chart: any) {
      const ctx: CanvasRenderingContext2D = chart.ctx;
      const ox = p.canvas[0];
      const oy = p.canvas[1];
      const X = (v: number) => v - ox;
      const Y = (v: number) => v - oy;
      const a = chart.chartArea;
      const xs = chart.scales.x;
      const ys = chart.scales.y;
      ctx.save();
      // inward tick marks
      ctx.strokeStyle = '#000';
      ctx.lineWidth = p.tickWidth;
      ctx.beginPath();
      p.xTicks.forEach((v) => { const px = xs.getPixelForValue(v); ctx.moveTo(px, a.bottom); ctx.lineTo(px, a.bottom - p.majorLen); });
      p.xMinor.forEach((v) => { const px = xs.getPixelForValue(v); ctx.moveTo(px, a.bottom); ctx.lineTo(px, a.bottom - p.minorLen); });
      p.yTicks.forEach((v) => { const py = ys.getPixelForValue(v); ctx.moveTo(a.left, py); ctx.lineTo(a.left + p.majorLen, py); });
      p.yMinor.forEach((v) => { const py = ys.getPixelForValue(v); ctx.moveTo(a.left, py); ctx.lineTo(a.left + p.minorLen, py); });
      ctx.stroke();
      // frame
      ctx.lineWidth = p.frameWidth;
      ctx.lineJoin = 'miter';
      ctx.beginPath();
      ctx.moveTo(a.left, a.top);
      ctx.lineTo(a.left, a.bottom);
      ctx.lineTo(a.right, a.bottom);
      ctx.lineTo(a.right, a.top);
      if (p.frameTop) ctx.closePath();
      ctx.stroke();
      // title box
      const t = p.title;
      ctx.strokeStyle = t.color;
      ctx.lineWidth = t.border;
      ctx.strokeRect(X(t.box[0]), Y(t.box[1]), t.box[2] - t.box[0], t.box[3] - t.box[1]);
      if (t.marker) {
        const m = t.marker;
        ctx.strokeStyle = m.color;
        ctx.lineWidth = 1.5;
        ctx.beginPath();
        ctx.moveTo(X(m.x1), Y(m.y));
        ctx.lineTo(X(m.x2), Y(m.y));
        ctx.stroke();
        drawMark(ctx, m.shape, X(m.mx), Y(m.y), m.r, m.color);
      }
      ctx.fillStyle = '#000';
      ctx.font = `${t.font}px ${SERIF}`;
      ctx.textAlign = 'left';
      ctx.textBaseline = 'middle';
      ctx.fillText(t.text, X(t.tx), Y(t.ty));
      // annotation
      if (p.note) {
        ctx.fillStyle = BLUE;
        ctx.font = `${p.note.font}px ${SERIF}`;
        ctx.fillText('Out of plane', X(p.note.x), Y(p.note.y));
      }
      // inner legend
      if (p.legend) {
        const L = p.legend;
        ctx.fillStyle = '#fff';
        ctx.fillRect(X(L.box[0]), Y(L.box[1]), L.box[2] - L.box[0], L.box[3] - L.box[1]);
        ctx.strokeStyle = '#000';
        ctx.lineWidth = 2;
        ctx.strokeRect(X(L.box[0]), Y(L.box[1]), L.box[2] - L.box[0], L.box[3] - L.box[1]);
        L.entries.forEach((e) => {
          ctx.strokeStyle = e.color;
          ctx.lineWidth = 1.2;
          ctx.beginPath();
          ctx.moveTo(X(L.x1), Y(e.y));
          ctx.lineTo(X(L.x2), Y(e.y));
          ctx.stroke();
          drawMark(ctx, e.shape, X(L.mx), Y(e.y), e.r, e.color);
          ctx.fillStyle = e.color;
          ctx.font = `${L.font}px ${SERIF}`;
          ctx.textAlign = 'left';
          ctx.textBaseline = 'middle';
          ctx.fillText(e.label, X(L.tx), Y(e.y));
        });
      }
      // axis titles
      drawMixed(ctx, [{ t: 'H', it: true }, { t: ' (Oe)' }], p.axisFont, X(p.xTitle[0]), Y(p.xTitle[1]), false);
      drawMixed(ctx, [{ t: 'M', it: true }, { t: ' (emu)' }], p.axisFont, X(p.yTitle[0]), Y(p.yTitle[1]), true);
      ctx.restore();
    },
  };
}

function Panel({ p }: { p: PanelCfg }) {
  const ref = useRef<HTMLCanvasElement | null>(null);
  const [cl, ct, cr, cb] = p.canvas;
  const W = cr - cl;
  const H = cb - ct;
  useEffect(() => {
    const cv = ref.current;
    if (!cv) return;
    const yAxisW = p.plot[0] - cl;
    const xAxisH = cb - p.plot[3];
    const tickFont = { family: SERIF, size: p.tickFont };
    const chart = new Chart(cv, {
      type: 'scatter',
      data: {
        datasets: p.series.map((s) => ({
          label: s.label,
          data: ([] as Pt[]).concat(...s.branches).map(([x, y]) => ({ x, y })),
          showLine: true,
          borderColor: s.color,
          borderWidth: s.lw,
          backgroundColor: s.color,
          pointBackgroundColor: s.color,
          pointBorderColor: s.color,
          pointBorderWidth: 0,
          pointStyle: s.shape,
          pointRadius: s.radius,
          pointHoverRadius: s.radius,
          tension: 0,
          fill: false,
          order: s.order,
        })),
      },
      options: {
        animation: false,
        responsive: false,
        devicePixelRatio: 1,
        events: [],
        layout: { padding: { left: 0, bottom: 0, top: p.plot[1] - ct, right: cr - p.plot[2] } },
        plugins: { legend: { display: false }, tooltip: { enabled: false }, title: { display: false } },
        scales: {
          x: {
            type: 'linear', position: 'bottom', min: p.xMin, max: p.xMax,
            grid: { display: false, drawTicks: false }, border: { display: false },
            ticks: {
              font: tickFont, color: '#000', padding: p.xPad, maxRotation: 0, minRotation: 0, autoSkip: false,
              callback: (_v: any, i: number) => p.xLabels[i] ?? '',
            },
            afterBuildTicks: (s: any) => { s.ticks = p.xTicks.map((v) => ({ value: v })); },
            afterFit: (s: any) => { s.height = xAxisH; s.paddingLeft = 0; s.paddingRight = 0; s.paddingTop = 0; s.paddingBottom = 0; },
          },
          y: {
            type: 'linear', position: 'left', min: p.yMin, max: p.yMax,
            grid: { display: false, drawTicks: false }, border: { display: false },
            ticks: {
              font: tickFont, color: '#000', padding: p.yPad, autoSkip: false,
              callback: (_v: any, i: number) => p.yLabels[i] ?? '',
            },
            afterBuildTicks: (s: any) => { s.ticks = p.yTicks.map((v) => ({ value: v })); },
            afterFit: (s: any) => { s.width = yAxisW; s.paddingLeft = 0; s.paddingRight = 0; s.paddingTop = 0; s.paddingBottom = 0; },
          },
        },
      } as any,
      plugins: [decorPlugin(p)],
    });
    return () => chart.destroy();
  }, []);
  return (
    <canvas
      ref={ref}
      width={W}
      height={H}
      style={{ position: 'absolute', left: cl, top: ct, width: W, height: H }}
    />
  );
}

// text line placement (page px)
const TOP_LINE_X = [2236, 2167, 2217, 2190, 2196, 2245, 2175];
const MID_LINE_X = [2120, 2159, 2222, 2134, 2308];

function TextBlock({ lines, xs, size, firstBaseline, step, ascentOffset }: { lines: string[]; xs: number[]; size: number; firstBaseline: number; step: number; ascentOffset: number }) {
  return (
    <>
      {lines.map((ln, i) => (
        <div
          key={i}
          style={{
            position: 'absolute', left: xs[i], top: firstBaseline + i * step - ascentOffset,
            fontFamily: SANS, fontSize: size, lineHeight: `${size}px`, whiteSpace: 'nowrap', color: '#000',
          }}
        >
          {ln}
        </div>
      ))}
    </>
  );
}

export default function App() {
  return (
    <div style={{ position: 'absolute', left: 0, top: 0, width: 2810, height: 2181, overflow: 'hidden', background: '#fff' }}>
      {PANELS.map((p, i) => <Panel key={i} p={p} />)}
      <TextBlock lines={TEXT_TOP} xs={TOP_LINE_X} size={70} firstBaseline={174.7} step={81.4} ascentOffset={59.25} />
      <TextBlock lines={TEXT_MID} xs={MID_LINE_X} size={74} firstBaseline={1045.1} step={89.4} ascentOffset={62.6} />
    </div>
  );
}
